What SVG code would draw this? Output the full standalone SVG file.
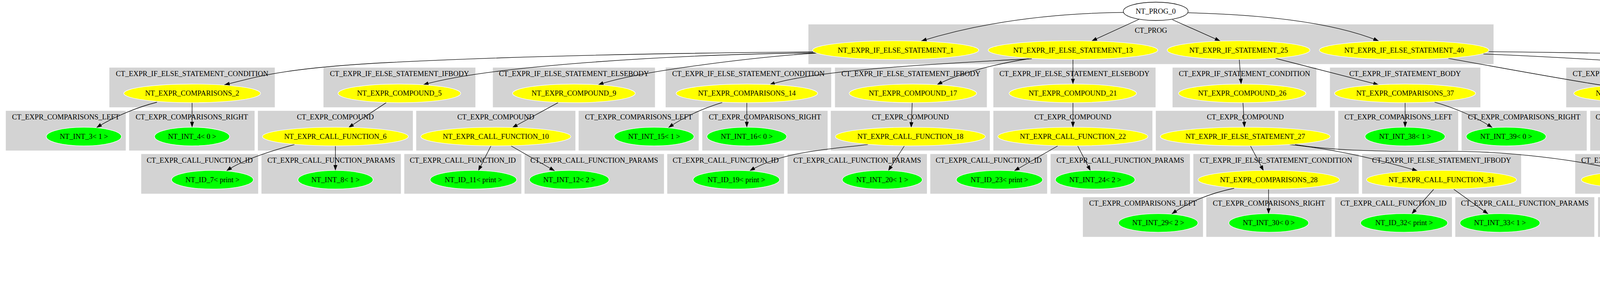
<svg xmlns="http://www.w3.org/2000/svg" width="6773" height="733" viewBox="0 0 6773 733">
<style>
.cl{fill:#d3d3d3;stroke:#d3d3d3;stroke-width:1}
.t{font-family:"Liberation Serif","Times New Roman",serif;font-size:18.67px;text-anchor:middle;fill:#000}
.y{fill:#ffff00;stroke:#ffffff;stroke-width:1.3}
.g{fill:#00ff00;stroke:#ffffff;stroke-width:1.3}
.w{fill:#ffffff;stroke:#000000;stroke-width:1.3}
.e{fill:none;stroke:#000;stroke-width:1.3;marker-end:url(#arr)}
</style>
<defs>
<marker id="arr" viewBox="0 0 14 10" refX="14" refY="5" markerWidth="14" markerHeight="10" markerUnits="userSpaceOnUse" orient="auto">
<path d="M0,0 L14,5 L0,10 z" fill="#000"/>
</marker>
</defs>
<rect x="0" y="0" width="6773" height="733" fill="#ffffff"/>
<g id="clusters">
<g id="c_prog"><rect class="cl" x="2070" y="63" width="1753" height="100.8"/><text class="t" x="2946.5" y="84.3">CT_PROG</text></g>
<g id="c1a"><rect class="cl" x="280.5" y="173.8" width="422.5" height="100.8"/><text class="t" x="491.75" y="195.1">CT_EXPR_IF_ELSE_STATEMENT_CONDITION</text></g>
<g id="c1b"><rect class="cl" x="828.7" y="173.8" width="387.9" height="100.8"/><text class="t" x="1022.65" y="195.1">CT_EXPR_IF_ELSE_STATEMENT_IFBODY</text></g>
<g id="c1c"><rect class="cl" x="1262.2" y="173.8" width="414" height="100.8"/><text class="t" x="1469.2" y="195.1">CT_EXPR_IF_ELSE_STATEMENT_ELSEBODY</text></g>
<g id="c1d"><rect class="cl" x="1704.5" y="173.8" width="422.8" height="100.8"/><text class="t" x="1915.9" y="195.1">CT_EXPR_IF_ELSE_STATEMENT_CONDITION</text></g>
<g id="c1e"><rect class="cl" x="2138" y="173.8" width="387.9" height="100.8"/><text class="t" x="2331.95" y="195.1">CT_EXPR_IF_ELSE_STATEMENT_IFBODY</text></g>
<g id="c1f"><rect class="cl" x="2543.5" y="173.8" width="414.3" height="100.8"/><text class="t" x="2750.65" y="195.1">CT_EXPR_IF_ELSE_STATEMENT_ELSEBODY</text></g>
<g id="c1g"><rect class="cl" x="3002.2" y="173.8" width="367.3" height="100.8"/><text class="t" x="3185.85" y="195.1">CT_EXPR_IF_STATEMENT_CONDITION</text></g>
<g id="c1h"><rect class="cl" x="3405.1" y="173.8" width="384.1" height="100.8"/><text class="t" x="3597.15" y="195.1">CT_EXPR_IF_STATEMENT_BODY</text></g>
<g id="c1i"><rect class="cl" x="4010" y="173.8" width="422.3" height="100.8"/><text class="t" x="4221.15" y="195.1">CT_EXPR_IF_ELSE_STATEMENT_CONDITION</text></g>
<g id="c1j"><rect class="cl" x="4879.5" y="173.8" width="406.3" height="100.8"/><text class="t" x="5082.65" y="195.1">CT_EXPR_IF_ELSE_STATEMENT_IFBODY</text></g>
<g id="c1k"><rect class="cl" x="5852.8" y="173.8" width="414" height="100.8"/><text class="t" x="6059.8" y="195.1">CT_EXPR_IF_ELSE_STATEMENT_ELSEBODY</text></g>
<g id="c2a"><rect class="cl" x="15.3" y="284.5" width="306.1" height="100.8"/><text class="t" x="168.35" y="305.8">CT_EXPR_COMPARISONS_LEFT</text></g>
<g id="c2b"><rect class="cl" x="331" y="284.5" width="320.2" height="100.8"/><text class="t" x="491.1" y="305.8">CT_EXPR_COMPARISONS_RIGHT</text></g>
<g id="c2c"><rect class="cl" x="660.7" y="284.5" width="395.7" height="100.8"/><text class="t" x="858.55" y="305.8">CT_EXPR_COMPOUND</text></g>
<g id="c2d"><rect class="cl" x="1066" y="284.5" width="406.6" height="100.8"/><text class="t" x="1269.3" y="305.8">CT_EXPR_COMPOUND</text></g>
<g id="c2e"><rect class="cl" x="1481.8" y="284.5" width="306.4" height="100.8"/><text class="t" x="1635" y="305.8">CT_EXPR_COMPARISONS_LEFT</text></g>
<g id="c2f"><rect class="cl" x="1798.2" y="284.5" width="319.9" height="100.8"/><text class="t" x="1958.15" y="305.8">CT_EXPR_COMPARISONS_RIGHT</text></g>
<g id="c2g"><rect class="cl" x="2127.3" y="284.5" width="406.2" height="100.8"/><text class="t" x="2330.4" y="305.8">CT_EXPR_COMPOUND</text></g>
<g id="c2h"><rect class="cl" x="2543.5" y="284.5" width="406.2" height="100.8"/><text class="t" x="2746.6" y="305.8">CT_EXPR_COMPOUND</text></g>
<g id="c2i"><rect class="cl" x="2959.3" y="284.5" width="457.3" height="100.8"/><text class="t" x="3187.95" y="305.8">CT_EXPR_COMPOUND</text></g>
<g id="c2j"><rect class="cl" x="3426.2" y="284.5" width="306.4" height="100.8"/><text class="t" x="3579.4" y="305.8">CT_EXPR_COMPARISONS_LEFT</text></g>
<g id="c2k"><rect class="cl" x="3742.1" y="284.5" width="319.5" height="100.8"/><text class="t" x="3901.85" y="305.8">CT_EXPR_COMPARISONS_RIGHT</text></g>
<g id="c2l"><rect class="cl" x="4071.5" y="284.5" width="298.1" height="100.8"/><text class="t" x="4220.55" y="305.8">CT_EXPR_CALL_FUNCTION_ID</text></g>
<g id="c2m"><rect class="cl" x="4379.5" y="284.5" width="355.4" height="100.8"/><text class="t" x="4557.2" y="305.8">CT_EXPR_CALL_FUNCTION_PARAMS</text></g>
<g id="c2n"><rect class="cl" x="4744.9" y="284.5" width="298.1" height="100.8"/><text class="t" x="4893.95" y="305.8">CT_EXPR_CALL_FUNCTION_ID</text></g>
<g id="c2o"><rect class="cl" x="5052.5" y="284.5" width="617.1" height="100.8"/><text class="t" x="5361.05" y="305.8">CT_EXPR_CALL_FUNCTION_PARAMS</text></g>
<g id="c2p"><rect class="cl" x="5679.2" y="284.5" width="298.4" height="100.8"/><text class="t" x="5828.4" y="305.8">CT_EXPR_CALL_FUNCTION_ID</text></g>
<g id="c2q"><rect class="cl" x="5987.5" y="284.5" width="770.2" height="100.8"/><text class="t" x="6372.6" y="305.8">CT_EXPR_CALL_FUNCTION_PARAMS</text></g>
<g id="c3a"><rect class="cl" x="362" y="395.2" width="298.4" height="100.8"/><text class="t" x="511.2" y="416.5">CT_EXPR_CALL_FUNCTION_ID</text></g>
<g id="c3b"><rect class="cl" x="669.9" y="395.2" width="355.9" height="100.8"/><text class="t" x="847.85" y="416.5">CT_EXPR_CALL_FUNCTION_PARAMS</text></g>
<g id="c3c"><rect class="cl" x="1035.4" y="395.2" width="298.7" height="100.8"/><text class="t" x="1184.75" y="416.5">CT_EXPR_CALL_FUNCTION_ID</text></g>
<g id="c3d"><rect class="cl" x="1343.3" y="395.2" width="355.9" height="100.8"/><text class="t" x="1521.25" y="416.5">CT_EXPR_CALL_FUNCTION_PARAMS</text></g>
<g id="c3e"><rect class="cl" x="1708.7" y="395.2" width="298" height="100.8"/><text class="t" x="1857.7" y="416.5">CT_EXPR_CALL_FUNCTION_ID</text></g>
<g id="c3f"><rect class="cl" x="2016.7" y="395.2" width="355.7" height="100.8"/><text class="t" x="2194.55" y="416.5">CT_EXPR_CALL_FUNCTION_PARAMS</text></g>
<g id="c3g"><rect class="cl" x="2382" y="395.2" width="298.1" height="100.8"/><text class="t" x="2531.05" y="416.5">CT_EXPR_CALL_FUNCTION_ID</text></g>
<g id="c3h"><rect class="cl" x="2690" y="395.2" width="355.8" height="100.8"/><text class="t" x="2867.9" y="416.5">CT_EXPR_CALL_FUNCTION_PARAMS</text></g>
<g id="c3i"><rect class="cl" x="3055.4" y="395.2" width="422.4" height="100.8"/><text class="t" x="3266.6" y="416.5">CT_EXPR_IF_ELSE_STATEMENT_CONDITION</text></g>
<g id="c3j"><rect class="cl" x="3487.4" y="395.2" width="406.3" height="100.8"/><text class="t" x="3690.55" y="416.5">CT_EXPR_IF_ELSE_STATEMENT_IFBODY</text></g>
<g id="c3k"><rect class="cl" x="4033" y="395.2" width="413.9" height="100.8"/><text class="t" x="4239.95" y="416.5">CT_EXPR_IF_ELSE_STATEMENT_ELSEBODY</text></g>
<g id="c3l"><rect class="cl" x="4744.9" y="395.2" width="298.1" height="100.8"/><text class="t" x="4893.95" y="416.5">CT_EXPR_CALL_FUNCTION_ID</text></g>
<g id="c3m"><rect class="cl" x="5052.5" y="395.2" width="655.8" height="100.8"/><text class="t" x="5380.4" y="416.5">CT_EXPR_CALL_FUNCTION_PARAMS</text></g>
<g id="c3n"><rect class="cl" x="5814.2" y="395.2" width="411.3" height="100.8"/><text class="t" x="6019.85" y="416.5">CT_EXPR_ASSIGNMENT_OPETATORS_LEFT</text></g>
<g id="c3o"><rect class="cl" x="6235.5" y="395.2" width="425.2" height="100.8"/><text class="t" x="6448.1" y="416.5">CT_EXPR_ASSIGNMENT_OPETATORS_RIGHT</text></g>
<g id="c4a"><rect class="cl" x="2772.7" y="505.9" width="306.4" height="100.8"/><text class="t" x="2925.9" y="527.2">CT_EXPR_COMPARISONS_LEFT</text></g>
<g id="c4b"><rect class="cl" x="3088.7" y="505.9" width="319.5" height="100.8"/><text class="t" x="3248.45" y="527.2">CT_EXPR_COMPARISONS_RIGHT</text></g>
<g id="c4c"><rect class="cl" x="3418.1" y="505.9" width="298.4" height="100.8"/><text class="t" x="3567.3" y="527.2">CT_EXPR_CALL_FUNCTION_ID</text></g>
<g id="c4d"><rect class="cl" x="3726" y="505.9" width="355" height="100.8"/><text class="t" x="3903.5" y="527.2">CT_EXPR_CALL_FUNCTION_PARAMS</text></g>
<g id="c4e"><rect class="cl" x="4091.4" y="505.9" width="298.5" height="100.8"/><text class="t" x="4240.65" y="527.2">CT_EXPR_CALL_FUNCTION_ID</text></g>
<g id="c4f"><rect class="cl" x="4399.4" y="505.9" width="355.8" height="100.8"/><text class="t" x="4577.3" y="527.2">CT_EXPR_CALL_FUNCTION_PARAMS</text></g>
<g id="c4g"><rect class="cl" x="4895.2" y="505.9" width="298.5" height="100.8"/><text class="t" x="5044.45" y="527.2">CT_EXPR_CALL_FUNCTION_ID</text></g>
<g id="c4h"><rect class="cl" x="5203.3" y="505.9" width="521" height="100.8"/><text class="t" x="5463.8" y="527.2">CT_EXPR_CALL_FUNCTION_PARAMS</text></g>
<g id="c5a"><rect class="cl" x="5047.5" y="616.6" width="411.7" height="100.8"/><text class="t" x="5253.35" y="637.9">CT_EXPR_ASSIGNMENT_OPETATORS_LEFT</text></g>
<g id="c5b"><rect class="cl" x="5468.7" y="616.6" width="425.1" height="100.8"/><text class="t" x="5681.25" y="637.9">CT_EXPR_ASSIGNMENT_OPETATORS_RIGHT</text></g>
</g>
<g id="edges">
<path class="e" d="M2875.6,31.8 C2700,34 2520,55 2358.3,105.2"/>
<path class="e" d="M2917,49 L2794.5,105.2"/>
<path class="e" d="M3001.4,50.5 L3123.9,105.2"/>
<path class="e" d="M3041.6,32.7 C3250,38 3420,60 3529.7,105.2"/>
<path class="e" d="M2082,133 C1700,136 1300,145 1000,160 C700,175 640,203 574,217.4"/>
<path class="e" d="M2086,135.5 C1700,140 1250,170 1083,217.4"/>
<path class="e" d="M2090,136 C1950,145 1640,180 1531,217.4"/>
<path class="e" d="M2641.4,150.5 C2400,163 2080,180 1969.6,217.4"/>
<path class="e" d="M2633.8,150.5 C2560,162 2460,185 2398.4,217.4"/>
<path class="e" d="M2746.7,152.3 L2746.7,215.5"/>
<path class="e" d="M3172.5,152.3 L3177.4,215.5"/>
<path class="e" d="M3265.4,149.6 L3529.7,217.4"/>
<path class="e" d="M3707.7,149.6 C3850,175 4000,203 4113.6,220.5"/>
<path class="e" d="M3797.6,138.4 C4100,150 4650,190 4944.2,223.5"/>
<path class="e" d="M3811,132.3 C4600,140 5500,180 5914.8,224.4"/>
<path class="e" d="M401.8,262 C350,275 290,300 246.8,327.3"/>
<path class="e" d="M491.7,263.1 L491.7,326.3"/>
<path class="e" d="M988.7,263.1 L891.9,327.3"/>
<path class="e" d="M1428.6,263.1 L1311.2,327.3"/>
<path class="e" d="M1849,262.7 C1800,278 1750,300 1711,327.3"/>
<path class="e" d="M1911.8,263.1 L1911.8,326.3"/>
<path class="e" d="M2335.3,263.1 L2332.6,327.3"/>
<path class="e" d="M2746.7,263.1 L2746.7,326.3"/>
<path class="e" d="M3182,263.1 L3185.8,326.3"/>
<path class="e" d="M3597.1,263.1 L3597.1,326.3"/>
<path class="e" d="M3672.5,261.8 C3720,275 3780,300 3820.6,327.3"/>
<path class="e" d="M4221.1,263.1 L4221.1,326.3"/>
<path class="e" d="M4303.4,261.8 C4360,275 4420,300 4464.9,327.3"/>
<path class="e" d="M5046.8,263.1 L4945,327.3"/>
<path class="e" d="M5118.3,263.1 L5220.9,327.3"/>
<path class="e" d="M5265.9,246.8 C5400,258 5480,285 5537.6,327.3"/>
<path class="e" d="M6020.4,263.1 L5909,327.3"/>
<path class="e" d="M6098.9,263.1 L6208.7,327.3"/>
<path class="e" d="M6251.5,244 C6420,255 6540,280 6601,327.3"/>
<path class="e" d="M754.1,370.3 C700,385 620,410 579.7,438"/>
<path class="e" d="M858.6,374 L858.6,437.1"/>
<path class="e" d="M1256.8,374 L1224.3,438"/>
<path class="e" d="M1308.5,374 L1420.2,438"/>
<path class="e" d="M2222.2,370.3 C2100,385 2000,390 1919,438"/>
<path class="e" d="M2315.1,374 L2273.8,438"/>
<path class="e" d="M2707.6,374 L2596.3,438"/>
<path class="e" d="M2758.9,374 L2791.8,438"/>
<path class="e" d="M3201.2,374 L3234.8,438"/>
<path class="e" d="M3301.8,370.7 C3420,382 3540,412 3629.2,438"/>
<path class="e" d="M3315.2,370.3 C3400,385 3550,390 3700,388 C3850,386 4050,410 4153.8,439.5"/>
<path class="e" d="M5139.4,370.3 C5080,385 5010,410 4968.3,438"/>
<path class="e" d="M5256,374 L5256,437.1"/>
<path class="e" d="M5366.6,370.3 C5440,385 5510,410 5549.9,438"/>
<path class="e" d="M6216.3,374 L6128.3,438"/>
<path class="e" d="M6271.8,374 L6338.8,438"/>
<path class="e" d="M3159.4,482.5 C3090,497 3040,520 2999.5,548.4"/>
<path class="e" d="M3247.5,485.2 L3247.5,548"/>
<path class="e" d="M3670.2,485.3 L3613.9,548.4"/>
<path class="e" d="M3721.8,485.3 L3809.9,548.4"/>
<path class="e" d="M4239.9,485.2 L4239.9,548"/>
<path class="e" d="M4324,483 C4380,497 4440,520 4479,549.3"/>
<path class="e" d="M5219.7,485.3 L5114.5,548.4"/>
<path class="e" d="M5298.4,485.3 L5420.9,548.4"/>
<path class="e" d="M5435.4,596 L5358.5,659.2"/>
<path class="e" d="M5491.7,596 L5569,659.2"/>
</g>
<g id="nodes">
<g id="n0"><ellipse class="w" cx="2958.6" cy="29" rx="83" ry="23.5"/><text class="t" x="2958.6" y="35">NT_PROG_0</text></g>
<g id="n1"><ellipse class="y" cx="2293" cy="128.5" rx="212.5" ry="23.8"/><text class="t" x="2293" y="134.5">NT_EXPR_IF_ELSE_STATEMENT_1</text></g>
<g id="n13"><ellipse class="y" cx="2746.8" cy="128.5" rx="217" ry="23.8"/><text class="t" x="2746.8" y="134.5">NT_EXPR_IF_ELSE_STATEMENT_13</text></g>
<g id="n25"><ellipse class="y" cx="3170.8" cy="128.5" rx="182.7" ry="23.8"/><text class="t" x="3170.8" y="134.5">NT_EXPR_IF_STATEMENT_25</text></g>
<g id="n40"><ellipse class="y" cx="3594.5" cy="128.5" rx="217" ry="23.8"/><text class="t" x="3594.5" y="134.5">NT_EXPR_IF_ELSE_STATEMENT_40</text></g>
<g id="n2"><ellipse class="y" cx="492" cy="239.3" rx="175" ry="23.8"/><text class="t" x="492" y="245.3">NT_EXPR_COMPARISONS_2</text></g>
<g id="n5"><ellipse class="y" cx="1022.4" cy="239.3" rx="157" ry="23.8"/><text class="t" x="1022.4" y="245.3">NT_EXPR_COMPOUND_5</text></g>
<g id="n9"><ellipse class="y" cx="1469.2" cy="239.3" rx="157" ry="23.8"/><text class="t" x="1469.2" y="245.3">NT_EXPR_COMPOUND_9</text></g>
<g id="n14"><ellipse class="y" cx="1912" cy="239.3" rx="181" ry="23.8"/><text class="t" x="1912" y="245.3">NT_EXPR_COMPARISONS_14</text></g>
<g id="n17"><ellipse class="y" cx="2337" cy="239.3" rx="163" ry="23.8"/><text class="t" x="2337" y="245.3">NT_EXPR_COMPOUND_17</text></g>
<g id="n21"><ellipse class="y" cx="2746.3" cy="239.3" rx="163" ry="23.8"/><text class="t" x="2746.3" y="245.3">NT_EXPR_COMPOUND_21</text></g>
<g id="n26"><ellipse class="y" cx="3180" cy="239.3" rx="163" ry="23.8"/><text class="t" x="3180" y="245.3">NT_EXPR_COMPOUND_26</text></g>
<g id="n37"><ellipse class="y" cx="3597" cy="239.3" rx="180.5" ry="23.8"/><text class="t" x="3597" y="245.3">NT_EXPR_COMPARISONS_37</text></g>
<g id="n41"><ellipse class="y" cx="4221" cy="239.3" rx="192" ry="23.8"/><text class="t" x="4221" y="245.3">NT_EXPR_CALL_FUNCTION_41</text></g>
<g id="n44"><ellipse class="y" cx="5082.5" cy="239.3" rx="192" ry="23.8"/><text class="t" x="5082.5" y="245.3">NT_EXPR_CALL_FUNCTION_44</text></g>
<g id="n55"><ellipse class="y" cx="6059.8" cy="239.3" rx="192" ry="23.8"/><text class="t" x="6059.8" y="245.3">NT_EXPR_CALL_FUNCTION_55</text></g>
<g id="n3"><ellipse class="g" cx="214.7" cy="350" rx="96" ry="23.8"/><text class="t" x="214.7" y="356">NT_INT_3&lt; 1 &gt;</text></g>
<g id="n4"><ellipse class="g" cx="491.7" cy="350" rx="96" ry="23.8"/><text class="t" x="491.7" y="356">NT_INT_4&lt; 0 &gt;</text></g>
<g id="n6"><ellipse class="y" cx="858.5" cy="350" rx="186.7" ry="23.8"/><text class="t" x="858.5" y="356">NT_EXPR_CALL_FUNCTION_6</text></g>
<g id="n10"><ellipse class="y" cx="1269.4" cy="350" rx="192" ry="23.8"/><text class="t" x="1269.4" y="356">NT_EXPR_CALL_FUNCTION_10</text></g>
<g id="n15"><ellipse class="g" cx="1674.5" cy="350" rx="102" ry="23.8"/><text class="t" x="1674.5" y="356">NT_INT_15&lt; 1 &gt;</text></g>
<g id="n16"><ellipse class="g" cx="1911.8" cy="350" rx="102" ry="23.8"/><text class="t" x="1911.8" y="356">NT_INT_16&lt; 0 &gt;</text></g>
<g id="n18"><ellipse class="y" cx="2330.5" cy="350" rx="192" ry="23.8"/><text class="t" x="2330.5" y="356">NT_EXPR_CALL_FUNCTION_18</text></g>
<g id="n22"><ellipse class="y" cx="2746.5" cy="350" rx="192" ry="23.8"/><text class="t" x="2746.5" y="356">NT_EXPR_CALL_FUNCTION_22</text></g>
<g id="n27"><ellipse class="y" cx="3187.8" cy="350" rx="217.4" ry="23.8"/><text class="t" x="3187.8" y="356">NT_EXPR_IF_ELSE_STATEMENT_27</text></g>
<g id="n38"><ellipse class="g" cx="3597" cy="350" rx="102.4" ry="23.8"/><text class="t" x="3597" y="356">NT_INT_38&lt; 1 &gt;</text></g>
<g id="n39"><ellipse class="g" cx="3855.7" cy="350" rx="102.2" ry="23.8"/><text class="t" x="3855.7" y="356">NT_INT_39&lt; 0 &gt;</text></g>
<g id="n42"><ellipse class="g" cx="4221" cy="350" rx="113.3" ry="23.8"/><text class="t" x="4221" y="356">NT_ID_42&lt; is.list &gt;</text></g>
<g id="n43"><ellipse class="g" cx="4502.5" cy="350" rx="112.3" ry="23.8"/><text class="t" x="4502.5" y="356">NT_ID_43&lt; input &gt;</text></g>
<g id="n45"><ellipse class="g" cx="4910.4" cy="350" rx="120.7" ry="23.8"/><text class="t" x="4910.4" y="356">NT_ID_45&lt; do.call &gt;</text></g>
<g id="n47"><ellipse class="y" cx="5255.9" cy="350" rx="192.2" ry="23.8"/><text class="t" x="5255.9" y="356">NT_EXPR_CALL_FUNCTION_47</text></g>
<g id="n46"><ellipse class="g" cx="5565.4" cy="350" rx="92.4" ry="23.8"/><text class="t" x="5565.4" y="356">NT_ID_46&lt; f &gt;</text></g>
<g id="n56"><ellipse class="g" cx="5873" cy="350" rx="92.4" ry="23.8"/><text class="t" x="5873" y="356">NT_ID_56&lt; f &gt;</text></g>
<g id="n58"><ellipse class="y" cx="6247.8" cy="350" rx="249.6" ry="23.8"/><text class="t" x="6247.8" y="356">NT_EXPR_ASSIGNMENT_OPETATORS_58</text></g>
<g id="n57"><ellipse class="g" cx="6634.8" cy="350" rx="112.2" ry="23.8"/><text class="t" x="6634.8" y="356">NT_ID_57&lt; input &gt;</text></g>
<g id="n7"><ellipse class="g" cx="543.9" cy="460.7" rx="104.6" ry="23.8"/><text class="t" x="543.9" y="466.7">NT_ID_7&lt; print &gt;</text></g>
<g id="n8"><ellipse class="g" cx="858.9" cy="460.7" rx="96" ry="23.8"/><text class="t" x="858.9" y="466.7">NT_INT_8&lt; 1 &gt;</text></g>
<g id="n11"><ellipse class="g" cx="1211.9" cy="460.7" rx="110.7" ry="23.8"/><text class="t" x="1211.9" y="466.7">NT_ID_11&lt; print &gt;</text></g>
<g id="n12"><ellipse class="g" cx="1457.3" cy="460.7" rx="101.8" ry="23.8"/><text class="t" x="1457.3" y="466.7">NT_INT_12&lt; 2 &gt;</text></g>
<g id="n19"><ellipse class="g" cx="1885" cy="460.7" rx="110.6" ry="23.8"/><text class="t" x="1885" y="466.7">NT_ID_19&lt; print &gt;</text></g>
<g id="n20"><ellipse class="g" cx="2258.6" cy="460.7" rx="102.3" ry="23.8"/><text class="t" x="2258.6" y="466.7">NT_INT_20&lt; 1 &gt;</text></g>
<g id="n23"><ellipse class="g" cx="2558.6" cy="460.7" rx="110.4" ry="23.8"/><text class="t" x="2558.6" y="466.7">NT_ID_23&lt; print &gt;</text></g>
<g id="n24"><ellipse class="g" cx="2803.7" cy="460.7" rx="101.8" ry="23.8"/><text class="t" x="2803.7" y="466.7">NT_INT_24&lt; 2 &gt;</text></g>
<g id="n28"><ellipse class="y" cx="3248" cy="460.7" rx="180.8" ry="23.8"/><text class="t" x="3248" y="466.7">NT_EXPR_COMPARISONS_28</text></g>
<g id="n31"><ellipse class="y" cx="3690.3" cy="460.7" rx="191.9" ry="23.8"/><text class="t" x="3690.3" y="466.7">NT_EXPR_CALL_FUNCTION_31</text></g>
<g id="n34"><ellipse class="y" cx="4240.2" cy="460.7" rx="191.9" ry="23.8"/><text class="t" x="4240.2" y="466.7">NT_EXPR_CALL_FUNCTION_34</text></g>
<g id="n48"><ellipse class="g" cx="4937.2" cy="460.7" rx="94" ry="23.8"/><text class="t" x="4937.2" y="466.7">NT_ID_48&lt; c &gt;</text></g>
<g id="n50"><ellipse class="y" cx="5255.9" cy="460.7" rx="192.2" ry="23.8"/><text class="t" x="5255.9" y="466.7">NT_EXPR_CALL_FUNCTION_50</text></g>
<g id="n49"><ellipse class="g" cx="5585.3" cy="460.7" rx="112.3" ry="23.8"/><text class="t" x="5585.3" y="466.7">NT_ID_49&lt; input &gt;</text></g>
<g id="n59"><ellipse class="g" cx="6098.6" cy="460.7" rx="115.8" ry="23.8"/><text class="t" x="6098.6" y="466.7">NT_ID_59&lt; na.rm &gt;</text></g>
<g id="n60"><ellipse class="g" cx="6362.8" cy="460.7" rx="115.8" ry="23.8"/><text class="t" x="6362.8" y="466.7">NT_ID_60&lt; na.rm &gt;</text></g>
<g id="n29"><ellipse class="g" cx="2965" cy="571.4" rx="101.6" ry="23.8"/><text class="t" x="2965" y="577.4">NT_INT_29&lt; 2 &gt;</text></g>
<g id="n30"><ellipse class="g" cx="3248" cy="571.4" rx="102" ry="23.8"/><text class="t" x="3248" y="577.4">NT_INT_30&lt; 0 &gt;</text></g>
<g id="n32"><ellipse class="g" cx="3594.5" cy="571.4" rx="111.4" ry="23.8"/><text class="t" x="3594.5" y="577.4">NT_ID_32&lt; print &gt;</text></g>
<g id="n33"><ellipse class="g" cx="3839.9" cy="571.4" rx="102.4" ry="23.8"/><text class="t" x="3839.9" y="577.4">NT_INT_33&lt; 1 &gt;</text></g>
<g id="n35"><ellipse class="g" cx="4239.9" cy="571.4" rx="111" ry="23.8"/><text class="t" x="4239.9" y="577.4">NT_ID_35&lt; print &gt;</text></g>
<g id="n36"><ellipse class="g" cx="4513.1" cy="571.4" rx="101.8" ry="23.8"/><text class="t" x="4513.1" y="577.4">NT_INT_36&lt; 2 &gt;</text></g>
<g id="n51"><ellipse class="g" cx="5079.9" cy="571.4" rx="102" ry="23.8"/><text class="t" x="5079.9" y="577.4">NT_ID_51&lt; list &gt;</text></g>
<g id="n52"><ellipse class="y" cx="5463.8" cy="571.4" rx="249.8" ry="23.8"/><text class="t" x="5463.8" y="577.4">NT_EXPR_ASSIGNMENT_OPETATORS_52</text></g>
<g id="n53"><ellipse class="g" cx="5331.8" cy="682.1" rx="115.9" ry="23.8"/><text class="t" x="5331.8" y="688.1">NT_ID_53&lt; na.rm &gt;</text></g>
<g id="n54"><ellipse class="g" cx="5596" cy="682.1" rx="115.7" ry="23.8"/><text class="t" x="5596" y="688.1">NT_ID_54&lt; na.rm &gt;</text></g>
</g>
</svg>
